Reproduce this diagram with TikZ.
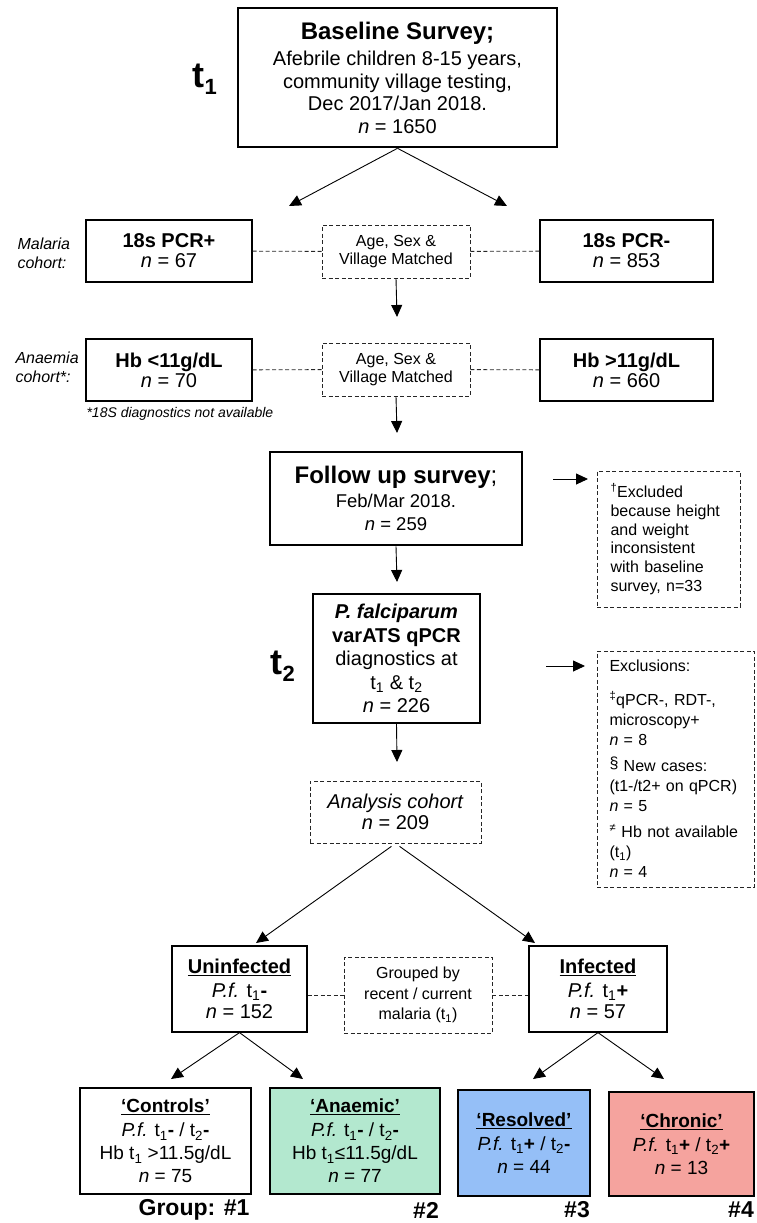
\documentclass[tikz,border=0pt]{standalone}
\usepackage{fontspec}
\setmainfont{Liberation Sans}
\usetikzlibrary{arrows.meta,calc}
\definecolor{anaemicgreen}{HTML}{B3E8CF}
\definecolor{resolvedblue}{HTML}{95BFF7}
\definecolor{chronicred}{HTML}{F5A39E}
\newcommand{\fs}[2]{\fontsize{#1}{#2}\selectfont}
\tikzset{
    box/.style={draw, line width=1.2pt, align=center, inner sep=2pt},
    thickbox/.style={draw, line width=2.6pt, align=center, inner sep=2pt},
    dbox/.style={draw=black!85, line width=0.9pt, dash pattern=on 4pt off 2.5pt, align=center, inner sep=2pt},
    arr/.style={line width=0.9pt, -{Triangle[length=12pt,width=11pt]}},
    link/.style={line width=0.9pt, draw=black!85, dash pattern=on 4pt off 2.5pt},
    tlabel/.style={font=\fs{36}{36}\bfseries},
  }
\begin{document}
\begin{tikzpicture}[x=1pt,y=-1pt]
          %page frame, y runs downwards
          \useasboundingbox (0,0) rectangle (756,1223);

          %baseline (t1)
          \node[thickbox, minimum width=319pt, minimum height=139pt, font=\fs{20}{22.5}] (base) at (397.5,77.5)
               {{\fs{24}{24}\bfseries Baseline Survey;}\\[4pt] Afebrile children 8-15 years,\\ community village testing,\\ Dec 2017/Jan 2018.\\ \textit{n} = 1650};
          \node[tlabel] (tone) at (205,79) {t$_{\mbox{\fs{22}{22}\bfseries 1}}$};
          \coordinate (splitL) at (289,206);
          \coordinate (splitR) at (507,206);
          \draw[arr] (base.south) -- (splitL);
          \draw[arr] (base.south) -- (splitR);

          %malaria cohort
          \node[font=\fs{16}{19}\itshape, align=left, anchor=west] (malaria) at (14,253) {Malaria\\ cohort:};
          \node[box, minimum width=166pt, minimum height=62pt, font=\fs{20}{20}] (pcrpos) at (169,251) {\textbf{18s PCR+}\\ \textit{n} = 67};
          \node[dbox, minimum width=148pt, minimum height=53pt, font=\fs{16}{18.5}] (matchA) at (396,251.5) {Age, Sex \&\\ Village Matched};
          \node[box, minimum width=173pt, minimum height=62pt, font=\fs{20}{20}] (pcrneg) at (626.5,251) {\textbf{18s PCR-}\\ \textit{n} = 853};
          \draw[link] (pcrpos) -- (matchA);
          \draw[link] (matchA) -- (pcrneg);
          \coordinate (downA) at (397,317);
          \draw[arr] (matchA.south) -- (downA);

          %anaemia cohort
          \node[font=\fs{16}{19}\itshape, align=left, anchor=west] (anaemia) at (12,367) {Anaemia\\ cohort*:};
          \node[box, minimum width=166pt, minimum height=62pt, font=\fs{20}{20}] (hblow) at (169,370) {\textbf{Hb <11g/dL}\\ \textit{n} = 70};
          \node[dbox, minimum width=148pt, minimum height=53pt, font=\fs{16}{18.5}] (matchB) at (396,369.5) {Age, Sex \&\\ Village Matched};
          \node[box, minimum width=173pt, minimum height=62pt, font=\fs{20}{20}] (hbhigh) at (626.5,370) {\textbf{Hb >11g/dL}\\ \textit{n} = 660};
          \node[font=\fs{14}{14}\itshape, anchor=west] (note) at (83,414) {*18S diagnostics not available};
          \draw[link] (hblow) -- (matchB);
          \draw[link] (matchB) -- (hbhigh);
          \coordinate (downB) at (397,433);
          \draw[arr] (matchB.south) -- (downB);

          %follow up
          \node[thickbox, minimum width=252pt, minimum height=93pt, font=\fs{18.5}{23}] (follow) at (396,498.5)
               {{\fs{24}{24}\textbf{Follow up survey};}\\[1pt] Feb/Mar 2018.\\ \textit{n} = 259};
          \node[dbox, minimum width=143pt, minimum height=136pt, text width=116pt, align=left, font=\fs{16}{18.8}] (exclA) at (668.5,539)
               {\textsuperscript{†}Excluded\\ because height\\ and weight\\ inconsistent\\ with baseline\\ survey, n=33};
          \coordinate (outA) at (553,479);
          \coordinate (inA) at (588,479);
          \draw[arr] (outA) -- (inA);
          \coordinate (downC) at (397,582);
          \draw[arr] (follow.south) -- (downC);

          %qPCR (t2)
          \node[box, minimum width=167pt, minimum height=129pt, font=\fs{20}{23.5}] (qpcr) at (396.5,658.5)
               {\textbf{\textit{P. falciparum}}\\ \textbf{varATS qPCR}\\ diagnostics at\\ t\textsubscript{1} \& t\textsubscript{2}\\ \textit{n} = 226};
          \node[tlabel] (ttwo) at (283,666) {t$_{\mbox{\fs{22}{22}\bfseries 2}}$};
          \node[dbox, minimum width=157pt, minimum height=236pt, text width=132pt, align=left, font=\fs{16}{20}] (exclB) at (675.5,769)
               {Exclusions:\\[14pt] \textsuperscript{‡}qPCR-, RDT-,\\ microscopy+\\ \textit{n} = 8\\[6pt]
                \raisebox{3pt}{§} New cases:\\ (t1-/t2+ on qPCR)\\ \textit{n} = 5\\[6pt]
                \textsuperscript{≠} Hb not available\\ (t\textsubscript{1})\\ \textit{n} = 4};
          \coordinate (outB) at (546,666);
          \coordinate (inB) at (585,666);
          \draw[arr] (outB) -- (inB);
          \coordinate (downD) at (397,762);
          \draw[arr] (qpcr.south) -- (downD);

          %analysis cohort
          \node[dbox, minimum width=171pt, minimum height=62pt, font=\fs{20}{21}] (cohort) at (395.5,812) {\textit{Analysis cohort}\\ \textit{n} = 209};
          \coordinate (tipU) at (256,943);
          \coordinate (tipI) at (535,943);
          \draw[arr, shorten <=5pt] (cohort.south) -- (tipU);
          \draw[arr, shorten <=5pt] (cohort.south) -- (tipI);

          %infection status
          \node[box, minimum width=135pt, minimum height=86pt, font=\fs{20}{21.5}] (uninf) at (239.5,989)
               {\underline{\textbf{Uninfected}}\\[2pt] \textit{P.f.} t\textsubscript{1}\textbf{-}\\ \textit{n} = 152};
          \node[dbox, minimum width=148pt, minimum height=76pt, font=\fs{16}{20.5}] (grouped) at (418,995)
               {Grouped by\\ recent / current\\ malaria (t\textsubscript{1})};
          \node[box, minimum width=138pt, minimum height=86pt, font=\fs{20}{21.5}] (inf) at (598,989)
               {\underline{\textbf{Infected}}\\[2pt] \textit{P.f.} t\textsubscript{1}\textbf{+}\\ \textit{n} = 57};
          \draw[link] (uninf.east |- grouped.west) -- (grouped.west);
          \draw[link] (grouped.east) -- (inf.west |- grouped.east);
          \coordinate (tipC) at (171,1079);
          \coordinate (tipA) at (303,1079);
          \coordinate (tipR) at (533,1079);
          \coordinate (tipK) at (664,1079);
          \draw[arr] (uninf.south) -- (tipC);
          \draw[arr] (uninf.south) -- (tipA);
          \draw[arr] (inf.south) -- (tipR);
          \draw[arr] (inf.south) -- (tipK);

          %groups
          \node[box, minimum width=171pt, minimum height=106pt, font=\fs{19}{23}] (ctrl) at (165.5,1141)
               {\underline{\textbf{‘Controls’}}\\[1pt] \textit{P.f.} t\textsubscript{1}\textbf{-} / t\textsubscript{2}\textbf{-}\\ Hb t\textsubscript{1} >11.5g/dL\\ \textit{n} = 75};
          \node[box, fill=anaemicgreen, minimum width=170pt, minimum height=106pt, font=\fs{19}{23}] (anaem) at (355,1141)
               {\underline{\textbf{‘Anaemic’}}\\[1pt] \textit{P.f.} t\textsubscript{1}\textbf{-} / t\textsubscript{2}\textbf{-}\\ Hb t\textsubscript{1}≤11.5g/dL\\ \textit{n} = 77};
          \node[box, fill=resolvedblue, minimum width=132pt, minimum height=106pt, font=\fs{19}{23}] (resol) at (524,1143)
               {\underline{\textbf{‘Resolved’}}\\[1pt] \textit{P.f.} t\textsubscript{1}\textbf{+} / t\textsubscript{2}\textbf{-}\\ \textit{n} = 44};
          \node[box, fill=chronicred, minimum width=145pt, minimum height=104pt, font=\fs{19}{23}] (chron) at (681.5,1144)
               {\underline{\textbf{‘Chronic’}}\\[1pt] \textit{P.f.} t\textsubscript{1}\textbf{+} / t\textsubscript{2}\textbf{+}\\ \textit{n} = 13};
          \node[font=\fs{23}{23}\bfseries] (gone) at (194,1210) {Group: \#1};
          \node[font=\fs{23}{23}\bfseries] (gtwo) at (426,1210) {\#2};
          \node[font=\fs{23}{23}\bfseries] (gthree) at (577,1210) {\#3};
          \node[font=\fs{23}{23}\bfseries] (gfour) at (741,1210) {\#4};
\end{tikzpicture}
\end{document}
